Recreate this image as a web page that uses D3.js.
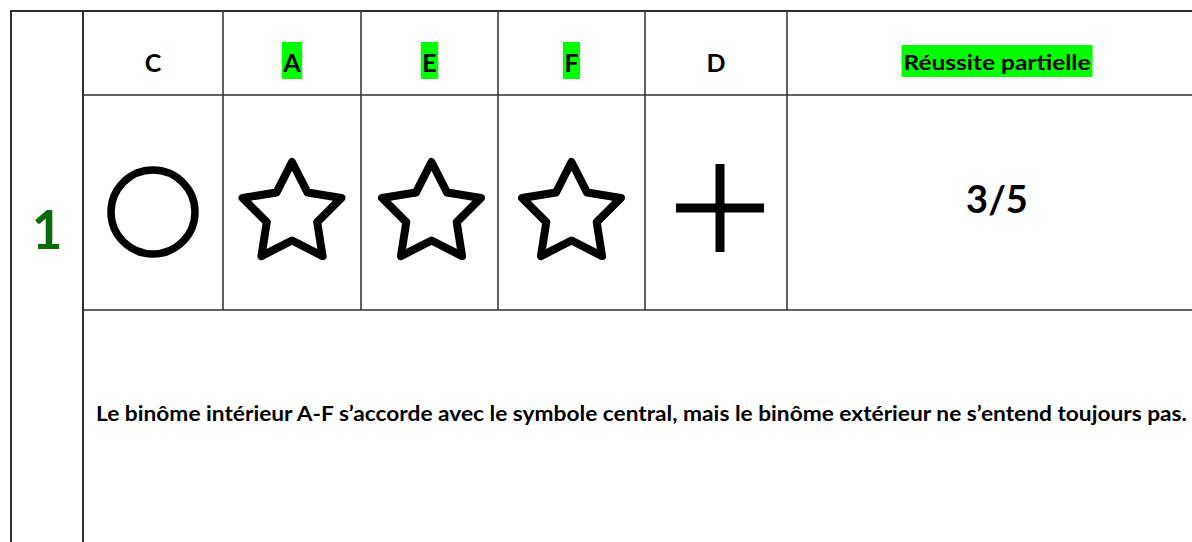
<!DOCTYPE html>
<html>
<head>
<meta charset="utf-8">
<script src="https://cdn.jsdelivr.net/npm/d3@7"></script>
<style>
  html, body { margin: 0; padding: 0; background: #fff; overflow: hidden; }
  svg { display: block; }
  text { font-family: Lato, "Open Sans", sans-serif; font-weight: 700; }
</style>
</head>
<body>
<svg id="chart" width="1192" height="542"></svg>
<script>
// ---- data ----
const rowLabel = "1";
const columns = ["C", "A", "E", "F", "D"];
const symbols = ["circle", "star", "star", "star", "plus"];
const highlighted = [false, true, true, true, false];
const resultLabel = "Réussite partielle";
const resultHighlighted = true;
const score = "3/5";
const comment = "Le binôme intérieur A-F s’accorde avec le symbole central, mais le binôme extérieur ne s’entend toujours pas.";

// ---- layout ----
const W = 1192, H = 542;
const edges = [83, 223, 361, 498, 645, 787, 1207];
const outerLeft = 11, tableTop = 11, headerBottom = 95, symbolBottom = 310;
const lineColor = "#2e2e2e";
const hl = "#00ff00";

const svg = d3.select("#chart");

const colCenter = d3.scaleOrdinal()
  .domain(columns.concat([resultLabel]))
  .range(edges.slice(0, -1).map((e, i) => (e + edges[i + 1]) / 2));

// ---- grid lines ----
const g = svg.append("g").attr("stroke", lineColor).attr("fill", "none");
g.append("line").attr("x1", outerLeft - 1).attr("x2", W).attr("y1", tableTop).attr("y2", tableTop).attr("stroke-width", 1.8);
g.append("line").attr("x1", outerLeft).attr("x2", outerLeft).attr("y1", tableTop).attr("y2", H).attr("stroke-width", 2);
g.append("line").attr("x1", edges[0]).attr("x2", edges[0]).attr("y1", tableTop).attr("y2", H).attr("stroke-width", 2);
g.append("line").attr("x1", edges[0]).attr("x2", W).attr("y1", headerBottom).attr("y2", headerBottom).attr("stroke-width", 1.6);
g.append("line").attr("x1", edges[0]).attr("x2", W).attr("y1", symbolBottom).attr("y2", symbolBottom).attr("stroke-width", 1.6);
edges.slice(1, -1).forEach(x => {
  g.append("line").attr("x1", x).attr("x2", x).attr("y1", tableTop).attr("y2", symbolBottom).attr("stroke-width", 1.5);
});

// ---- row label ----
svg.append("text")
  .attr("x", 47).attr("y", 249)
  .attr("text-anchor", "middle")
  .attr("font-size", 53)
  .attr("fill", "#0b6b0b")
  .text(rowLabel);

// ---- header letters ----
const hdr = svg.append("g");
columns.forEach((c, i) => {
  const cx = colCenter(c);
  const t = hdr.append("text")
    .attr("x", cx).attr("y", 72)
    .attr("text-anchor", "middle")
    .attr("font-size", 25)
    .attr("fill", "#000")
    .text(c);
  if (highlighted[i]) {
    const w = t.node().getComputedTextLength() + 3;
    hdr.insert("rect", "text")
      .attr("x", cx - w / 2).attr("y", 42)
      .attr("width", w).attr("height", 37)
      .attr("fill", hl);
  }
});

// result header
{
  const cx = colCenter(resultLabel);
  const target = 187;
  const t = hdr.append("text")
    .attr("x", cx).attr("y", 70)
    .attr("text-anchor", "middle")
    .attr("font-size", 21)
    .attr("fill", "#000")
    .text(resultLabel);
  const m = t.node().getComputedTextLength();
  if (Math.abs(m - target) > 2) t.attr("textLength", target).attr("lengthAdjust", "spacingAndGlyphs");
  if (resultHighlighted) {
    hdr.insert("rect", "text")
      .attr("x", cx - (target + 4) / 2).attr("y", 45)
      .attr("width", target + 4).attr("height", 32)
      .attr("fill", hl);
  }
}

// ---- symbols ----
const symY = 212;
const style = {
  circle: { dy: 0, sw: 7.5 },
  star: { dy: 2, sw: 8 },
  plus: { dy: -4, sw: 9 }
};
const starR = 52, starInner = 26.5;
const starPts = d3.range(10).map(i => [i * Math.PI / 5, i % 2 ? starInner : starR]);
const starLine = d3.lineRadial().curve(d3.curveLinearClosed);
const circlePath = d3.symbol().type(d3.symbolCircle).size(Math.PI * 42 * 42);

const sg = svg.append("g").attr("fill", "none").attr("stroke", "#000");
columns.forEach((c, i) => {
  const type = symbols[i];
  const s = style[type];
  const cx = colCenter(c) + (type === "plus" ? 4 : (type === "star" && i === 2 ? 2 : 0));
  const cy = symY + s.dy;
  const grp = sg.append("g").attr("transform", `translate(${cx},${cy})`);
  if (type === "circle") {
    grp.append("path").attr("d", circlePath()).attr("stroke-width", s.sw);
  } else if (type === "star") {
    grp.append("path").attr("d", starLine(starPts))
      .attr("stroke-width", s.sw).attr("stroke-linejoin", "round");
  } else if (type === "plus") {
    const h = 44;
    grp.append("path").attr("d", `M${-h},0H${h}M0,${-h}V${h}`)
      .attr("stroke-width", s.sw).attr("stroke-linecap", "butt");
  }
});

// ---- score ----
svg.append("text")
  .attr("x", colCenter(resultLabel)).attr("y", 213)
  .attr("text-anchor", "middle")
  .attr("font-size", 38)
  .attr("fill", "#000")
  .text(score);

// ---- comment ----
{
  const target = 1091;
  const t = svg.append("text")
    .attr("x", 96).attr("y", 421)
    .attr("font-size", 20)
    .attr("fill", "#000")
    .text(comment);
  const m = t.node().getComputedTextLength();
  if (Math.abs(m - target) > 3) t.attr("textLength", target).attr("lengthAdjust", "spacingAndGlyphs");
}
</script>
</body>
</html>
